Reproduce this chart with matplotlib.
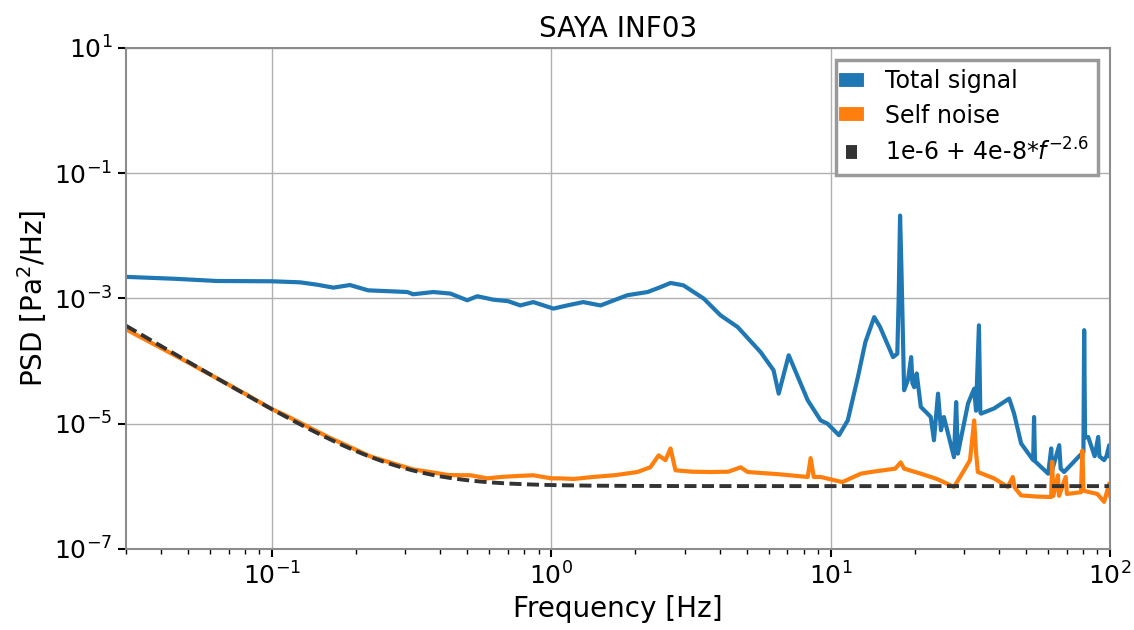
import matplotlib
matplotlib.use('Agg')
import matplotlib.pyplot as plt
import numpy as np

# total signal PSD: (frequency [Hz], PSD [Pa^2/Hz])
signal = [
    (0.030, 2.2e-3), (0.045, 2.05e-3), (0.0635, 1.89e-3), (0.100, 1.87e-3),
    (0.126, 1.8e-3), (0.145, 1.65e-3), (0.166, 1.48e-3), (0.190, 1.63e-3),
    (0.221, 1.34e-3), (0.260, 1.3e-3), (0.305, 1.26e-3), (0.320, 1.16e-3),
    (0.378, 1.26e-3), (0.435, 1.19e-3), (0.500, 0.93e-3), (0.543, 1.08e-3),
    (0.620, 0.95e-3), (0.700, 0.90e-3), (0.774, 0.77e-3), (0.862, 0.87e-3),
    (1.017, 0.685e-3), (1.140, 0.77e-3), (1.300, 0.87e-3), (1.500, 0.77e-3),
    (1.870, 1.12e-3), (2.210, 1.26e-3), (2.450, 1.5e-3), (2.670, 1.76e-3),
    (2.970, 1.61e-3), (3.510, 0.99e-3), (4.030, 0.535e-3), (4.640, 0.348e-3),
    (5.610, 1.38e-4), (6.240, 7.1e-5), (6.510, 3.0e-5), (7.070, 1.23e-4),
    (8.270, 2.35e-5), (9.200, 1.12e-5), (9.750, 9.9e-6), (10.70, 6.5e-6),
    (11.50, 1.12e-5), (12.50, 5.5e-5), (13.30, 2.0e-4), (14.30, 5.0e-4),
    (15.00, 3.5e-4), (16.00, 1.8e-4), (16.70, 1.15e-4), (17.30, 1.3e-4),
    (17.50, 1.0e-3), (17.70, 2.1e-2), (17.90, 3.0e-3), (18.30, 3.4e-5),
    (18.90, 5.0e-5), (19.40, 1.15e-4), (19.60, 4.4e-5), (19.90, 3.8e-5),
    (20.30, 6.3e-5), (21.00, 1.84e-5), (22.00, 1.5e-5), (22.80, 1.27e-5),
    (23.40, 5.4e-6), (24.20, 3.0e-5), (24.80, 7.8e-6), (25.40, 1.27e-5),
    (27.60, 2.9e-6), (28.10, 2.2e-5), (28.50, 3.3e-6), (31.00, 2.1e-5),
    (32.60, 3.6e-5), (33.10, 1.6e-5), (33.90, 3.7e-4), (34.30, 1.5e-5),
    (34.50, 1.44e-5), (38.40, 1.74e-5), (43.50, 2.5e-5), (45.30, 1.44e-5),
    (48.00, 4.8e-6), (53.00, 2.6e-6), (53.40, 1.27e-5), (53.80, 2.5e-6),
    (60.00, 1.58e-6), (61.50, 4.0e-6), (62.00, 1.8e-6), (65.70, 4.5e-6),
    (66.50, 1.9e-6), (68.40, 1.68e-6), (77.40, 3.0e-6), (80.20, 3.5e-6),
    (80.70, 3.1e-4), (81.30, 6.0e-6), (83.40, 6.1e-6), (88.00, 3.0e-6),
    (90.60, 6.1e-6), (91.50, 3.0e-6), (95.10, 2.6e-6), (97.00, 3.0e-6),
    (99.20, 4.5e-6), (100.0, 3.0e-6),
]

# sensor self noise PSD
self_noise = [
    (0.030, 3.2e-4), (0.050, 9.5e-5), (0.080, 3.0e-5), (0.100, 1.69e-5),
    (0.110, 1.4e-5), (0.130, 9.6e-6), (0.160, 6.0e-6), (0.200, 3.8e-6),
    (0.224, 3.0e-6), (0.272, 2.3e-6), (0.320, 1.85e-6), (0.368, 1.68e-6),
    (0.430, 1.5e-6), (0.513, 1.49e-6), (0.590, 1.33e-6), (0.660, 1.4e-6),
    (0.750, 1.45e-6), (0.862, 1.49e-6), (1.000, 1.33e-6), (1.077, 1.33e-6),
    (1.200, 1.3e-6), (1.410, 1.4e-6), (1.700, 1.5e-6), (2.030, 1.68e-6),
    (2.260, 2.0e-6), (2.420, 3.1e-6), (2.560, 2.6e-6), (2.670, 4.0e-6),
    (2.780, 1.79e-6), (3.200, 1.7e-6), (3.710, 1.68e-6), (4.300, 1.7e-6),
    (4.760, 2.0e-6), (5.040, 1.68e-6), (6.500, 1.55e-6), (8.270, 1.4e-6),
    (8.470, 2.8e-6), (8.690, 1.4e-6), (9.200, 1.4e-6), (11.00, 1.16e-6),
    (12.80, 1.58e-6), (13.90, 1.68e-6), (17.00, 1.9e-6), (17.80, 2.4e-6),
    (18.30, 1.9e-6), (21.00, 1.58e-6), (24.00, 1.3e-6), (27.60, 0.97e-6),
    (30.00, 1.79e-6), (31.50, 2.6e-6), (32.60, 1.12e-5), (33.10, 3.5e-6),
    (33.60, 1.68e-6), (38.40, 1.33e-6), (43.00, 0.97e-6), (44.80, 1.4e-6),
    (45.50, 0.95e-6), (48.00, 0.71e-6), (55.00, 0.68e-6), (61.50, 0.67e-6),
    (62.00, 2.45e-6), (62.60, 0.70e-6), (65.00, 1.49e-6), (65.60, 0.70e-6),
    (69.30, 1.4e-6), (70.00, 0.75e-6), (78.60, 0.80e-6), (79.50, 3.7e-6),
    (80.30, 0.85e-6), (83.40, 0.81e-6), (90.00, 0.75e-6), (95.10, 0.56e-6),
    (99.20, 1.1e-6), (100.0, 0.70e-6),
]

sig_f, sig_p = map(np.array, zip(*signal))
noise_f, noise_p = map(np.array, zip(*self_noise))

# noise model 1e-6 + 4e-8 * f^-2.6
model_f = np.logspace(np.log10(0.03), 2, 400)
model_p = 1e-6 + 4e-8 * model_f ** -2.6

plt.rcParams['axes.edgecolor'] = '0.55'
plt.rcParams['axes.linewidth'] = 1.5

fig, ax = plt.subplots(figsize=(11.34, 6.3), dpi=100)
fig.subplots_adjust(left=0.111, right=0.979, top=0.924, bottom=0.129)

ax.loglog(sig_f, sig_p, color='#1f77b4', lw=3, label='Total signal')
ax.loglog(noise_f, noise_p, color='#ff7f0e', lw=3, label='Self noise')
ax.loglog(model_f, model_p, '--', color='0.2', lw=2.8, dashes=(3.1, 1.4),
          label='1e-6 + 4e-8*$f^{-2.6}$')

ax.set_xlim(0.03, 100)
ax.set_ylim(1e-7, 10)
ax.set_yticks([1e-7, 1e-5, 1e-3, 1e-1, 1e1])
ax.yaxis.set_minor_locator(matplotlib.ticker.NullLocator())
ax.grid(True, which='major', color='#b0b0b0', lw=1)
ax.tick_params(which='major', length=6, width=1.5, labelsize=18)
ax.tick_params(which='minor', length=3.5, width=1)

ax.set_xlabel('Frequency [Hz]', fontsize=20)
ax.set_ylabel('PSD [Pa$^2$/Hz]', fontsize=20)
ax.set_title('SAYA INF03', fontsize=20, pad=8)

leg = ax.legend(loc='upper right', fontsize=17, handlelength=0.45,
                fancybox=False, framealpha=1, edgecolor='0.6',
                borderpad=0.4, labelspacing=0.45, handletextpad=1.2,
                borderaxespad=0.5)
leg.get_frame().set_linewidth(2.5)
for h in leg.legend_handles:
    h.set_linewidth(10)

plt.savefig('out.png')
